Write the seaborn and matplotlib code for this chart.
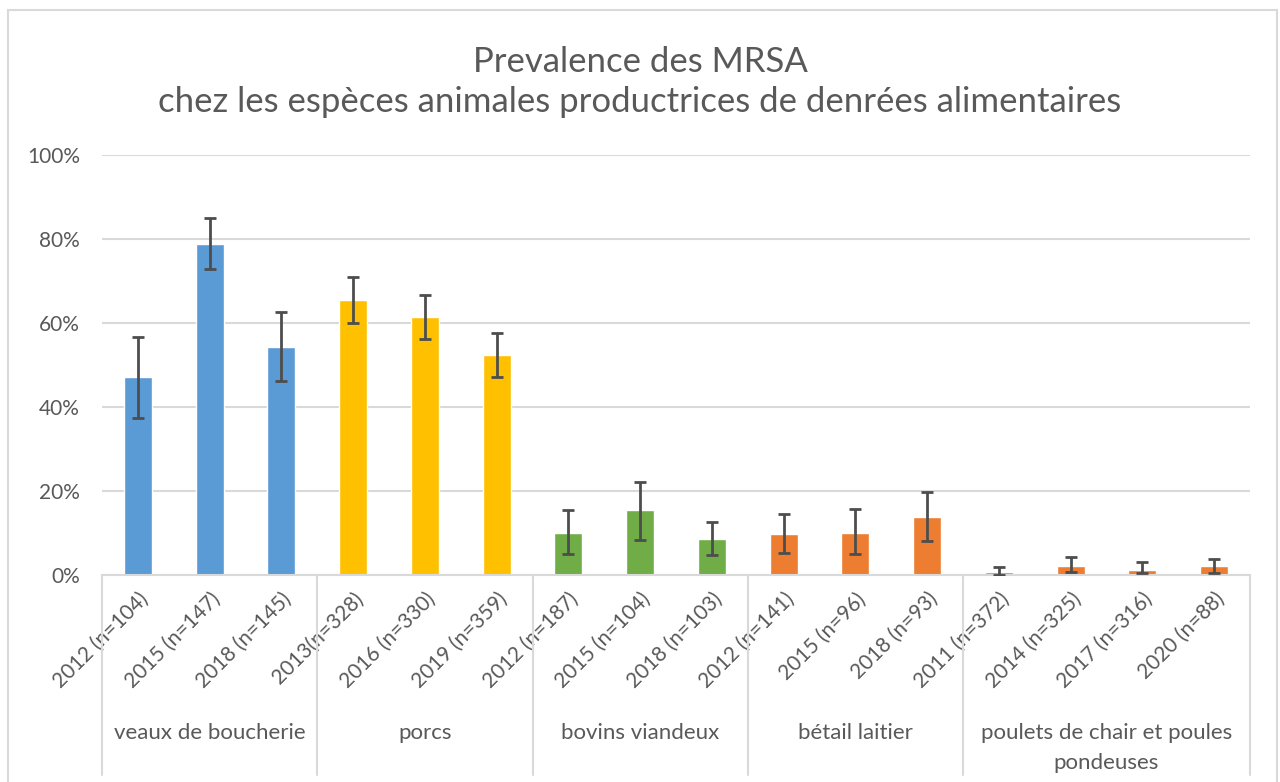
import matplotlib
matplotlib.use('Agg')
import matplotlib.pyplot as plt
import seaborn as sns
import pandas as pd
import numpy as np
from matplotlib.patches import Rectangle
from matplotlib.transforms import blended_transform_factory
from matplotlib.ticker import FuncFormatter

# ---- data ----
groups = ["veaux de boucherie", "porcs", "bovins viandeux", "bétail laitier",
          "poulets de chair et poules\npondeuses"]
group_sizes = [3, 3, 3, 3, 4]
group_colors = ["#5B9BD5", "#FFC000", "#70AD47", "#ED7D31", "#ED7D31"]
labels = ["2012 (n=104)", "2015 (n=147)", "2018 (n=145)",
          "2013(n=328)", "2016 (n=330)", "2019 (n=359)",
          "2012 (n=187)", "2015 (n=104)", "2018 (n=103)",
          "2012 (n=141)", "2015 (n=96)", "2018 (n=93)",
          "2011 (n=372)", "2014 (n=325)", "2017 (n=316)", "2020 (n=88)"]
values = [47.1, 78.9, 54.4, 65.4, 61.4, 52.3, 10.1, 15.4, 8.6,
          9.8, 10.1, 13.8, 0.6, 2.2, 1.3, 2.2]
ci_low = [37.5, 72.9, 46.3, 60.0, 56.3, 47.1, 5.0, 8.4, 4.8,
          5.3, 5.0, 8.1, 0.1, 0.7, 0.4, 0.5]
ci_high = [56.7, 85.0, 62.7, 71.0, 66.7, 57.6, 15.5, 22.2, 12.7,
           14.5, 15.7, 19.8, 1.8, 4.2, 3.0, 3.9]
yticks = [0, 20, 40, 60, 80, 100]
title_line1 = "Prevalence des MRSA"
title_line2 = "chez les espèces animales productrices de denrées alimentaires"

# ---- styling ----
sns.set_theme(style="white")
plt.rcParams['font.family'] = ['Lato', 'DejaVu Sans']
TXT = "#595959"
GRID = "#D9D9D9"

bar_colors = []
group_of_bar = []
for g, (n, c) in enumerate(zip(group_sizes, group_colors)):
    bar_colors += [c] * n
    group_of_bar += [groups[g]] * n

df = pd.DataFrame({"label": labels, "value": values, "group": group_of_bar})

fig = plt.figure(figsize=(12.8, 7.82), dpi=100)
ax = fig.add_axes([102/1280, 1-575/782, (1250-102)/1280, 420/782])

sns.barplot(data=df, x="label", y="value", hue="label", order=labels,
            hue_order=labels, palette=bar_colors, width=0.39, legend=False,
            saturation=1, ax=ax, zorder=2)

xpos = np.arange(len(labels))
vals = np.array(values)
err = [vals - np.array(ci_low), np.array(ci_high) - vals]
ax.errorbar(xpos, vals, yerr=err, fmt='none', ecolor="#4D4D4D",
            elinewidth=2, capsize=4, capthick=2, zorder=3)

ax.set_ylim(0, 100)
ax.set_xlim(-0.5, len(labels) - 0.5)
ax.set_yticks(yticks)
ax.yaxis.set_major_formatter(FuncFormatter(lambda v, p: f"{v:.0f}%"))
ax.tick_params(axis='y', length=0, pad=16, labelsize=15, labelcolor=TXT)
ax.set_xticks(xpos)
ax.set_xticklabels(labels, rotation=45, ha='right', rotation_mode='anchor')
ax.tick_params(axis='x', length=0, pad=10, labelsize=15, labelcolor=TXT)
ax.set_xlabel("")
ax.set_ylabel("")

ax.yaxis.grid(True, color=GRID, lw=1.5, zorder=0)
ax.set_axisbelow(True)
for s in ["top", "right", "left"]:
    ax.spines[s].set_visible(False)
ax.spines["bottom"].set_color(GRID)
ax.spines["bottom"].set_linewidth(1.5)

# group separators and labels
trans = blended_transform_factory(ax.transData, ax.transAxes)
bounds = np.concatenate([[0], np.cumsum(group_sizes)]) - 0.5
for b in bounds:
    ax.plot([b, b], [0, -0.475], transform=trans, color=GRID, lw=1.5,
            clip_on=False, zorder=1)
for g, name in enumerate(groups):
    center = (bounds[g] + bounds[g + 1]) / 2
    ax.text(center, -0.352, name, transform=trans, ha='center', va='top',
            fontsize=16, color=TXT, linespacing=1.65)

# title
fig.text(0.5, 1 - 62/782, title_line1, ha='center', va='center',
         fontsize=25, color=TXT)
fig.text(0.5, 1 - 102/782, title_line2, ha='center', va='center',
         fontsize=25, color=TXT)

# chart frame
fig.patches.append(Rectangle((0.006, -0.05), 0.992, 1.037,
                             transform=fig.transFigure, fill=False,
                             edgecolor=GRID, lw=1.5))

fig.savefig("out.png", dpi=100, facecolor="white")
